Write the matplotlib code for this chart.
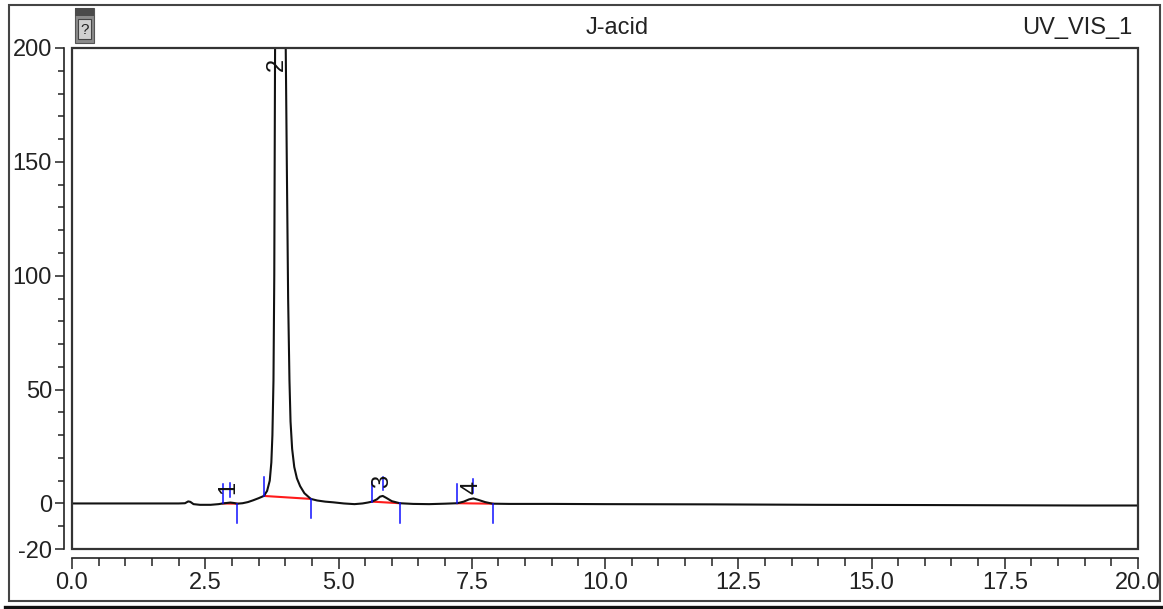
import matplotlib
matplotlib.use('Agg')
import matplotlib.pyplot as plt
from matplotlib.patches import Rectangle
from matplotlib.lines import Line2D
from matplotlib.ticker import FixedLocator, MultipleLocator

plt.rcParams['font.family'] = ['Liberation Sans', 'DejaVu Sans']

# ---------------- data ----------------
title = "J-acid"
channel = "UV_VIS_1"

time_min = [0.0, 1.0, 2.0, 2.12, 2.18, 2.22, 2.28, 2.4, 2.6, 2.75, 2.83, 2.9, 2.97,
            3.04, 3.10, 3.2, 3.3, 3.4, 3.5, 3.6, 3.66, 3.71, 3.74, 3.76, 3.78, 3.795,
            3.81, 3.83, 3.91, 3.98, 4.01, 4.03, 4.055, 4.08, 4.10, 4.13, 4.17, 4.22,
            4.28, 4.36, 4.48, 4.6, 4.75, 4.9, 5.1, 5.3, 5.45, 5.55, 5.63, 5.72, 5.78,
            5.83, 5.9, 6.0, 6.15, 6.4, 6.7, 7.0, 7.23, 7.35, 7.45, 7.53, 7.62, 7.75,
            7.89, 8.2, 9.0, 10.0, 12.0, 14.0, 16.0, 17.5, 19.0, 20.0]
signal_mau = [0.0, 0.0, 0.0, 0.1, 0.9, 0.7, -0.3, -0.6, -0.6, -0.3, 0.0, 0.2, 0.4,
              0.2, -0.1, 0.1, 0.6, 1.4, 2.3, 3.3, 5.5, 10.0, 18.0, 30.0, 54.0, 100.0,
              200.0, 260.0, 320.0, 260.0, 200.0, 150.0, 90.0, 54.0, 36.0, 24.0, 16.0, 11.0,
              7.6, 4.5, 2.0, 1.3, 0.8, 0.5, 0.0, -0.3, 0.0, 0.4, 0.8, 1.8, 3.0,
              3.3, 2.4, 1.0, 0.1, -0.2, -0.3, -0.1, 0.1, 0.8, 1.8, 2.2, 1.6, 0.6,
              -0.1, -0.2, -0.2, -0.3, -0.4, -0.6, -0.7, -0.8, -0.9, -0.9]

peak_ids = ["1", "2", "3", "4"]
peak_start = [2.83, 3.60, 5.63, 7.23]
peak_start_val = [0.0, 3.3, 0.8, 0.1]
peak_end = [3.10, 4.48, 6.15, 7.89]
peak_end_val = [-0.1, 2.0, 0.1, -0.1]
peak_apex = [2.97, None, 5.83, 7.53]
peak_apex_val = [0.4, None, 3.3, 2.2]
label_x = [2.93, 3.84, 5.81, 7.50]
label_y = [7.0, 193.0, 9.8, 7.2]

x_major = [0.0, 2.5, 5.0, 7.5, 10.0, 12.5, 15.0, 17.5, 20.0]
x_labels = ["0.0", "2.5", "5.0", "7.5", "10.0", "12.5", "15.0", "17.5", "20.0"]
y_major = [-20, 0, 50, 100, 150, 200]
y_labels = ["-20", "0", "50", "100", "150", "200"]

# ---------------- figure ----------------
W, H = 1163, 609
fig = plt.figure(figsize=(W / 100, H / 100), dpi=100)


def fx(px):
    return px / W


def fy(py):
    return 1 - py / H


ax = fig.add_axes([fx(72), fy(549), fx(1138) - fx(72), fy(48) - fy(549)])
ax.set_xlim(0, 20)
ax.set_ylim(-20, 200)

ax.plot(time_min, signal_mau, color='#111111', lw=1.5, zorder=3)

# integration baselines and delimiters
for i in range(len(peak_ids)):
    ax.plot([peak_start[i], peak_end[i]], [peak_start_val[i], peak_end_val[i]],
            color='#ff1a1a', lw=1.5, zorder=2)
    ax.plot([peak_start[i]] * 2, [peak_start_val[i], peak_start_val[i] + 8.5],
            color='#1010ff', lw=1.1, zorder=4)
    ax.plot([peak_end[i]] * 2, [peak_end_val[i], peak_end_val[i] - 8.5],
            color='#1010ff', lw=1.1, zorder=4)
    if peak_apex[i] is not None:
        ax.plot([peak_apex[i]] * 2, [peak_apex_val[i] + 2.5, peak_apex_val[i] + 8.5],
                color='#1010ff', lw=1.1, zorder=4)
    ax.text(label_x[i], label_y[i], peak_ids[i], rotation=90, ha='center', va='center',
            fontsize=17, color='#111111', zorder=5)

# box around plot area
ax.add_patch(Rectangle((0, 0), 1, 1, transform=ax.transAxes, fill=False,
                       lw=1.6, ec='#333333', clip_on=False, zorder=6))

for s in ['top', 'right']:
    ax.spines[s].set_visible(False)
ax.spines['left'].set_position(('outward', 5.8))
ax.spines['bottom'].set_position(('outward', 6.6))
for s in ['left', 'bottom']:
    ax.spines[s].set_linewidth(1.2)
    ax.spines[s].set_color('#222222')

ax.xaxis.set_major_locator(FixedLocator(x_major))
ax.set_xticklabels(x_labels)
ax.xaxis.set_minor_locator(MultipleLocator(0.5))
ax.yaxis.set_major_locator(FixedLocator(y_major))
ax.set_yticklabels(y_labels)
ax.yaxis.set_minor_locator(FixedLocator([v for v in range(-10, 200, 10) if v not in y_major]))

ax.tick_params(axis='x', which='major', direction='out', length=8, width=1.1,
               labelsize=17, pad=2, colors='#222222')
ax.tick_params(axis='x', which='minor', direction='out', length=5.6, width=1.1, colors='#222222')
ax.tick_params(axis='y', which='major', direction='out', length=6.2, width=1.1,
               labelsize=17, pad=2.5, colors='#222222')
ax.tick_params(axis='y', which='minor', direction='out', length=4.3, width=1.1, colors='#222222')

# outer frame
fig.add_artist(Rectangle((fx(9), fy(601)), fx(1160) - fx(9), fy(5) - fy(601),
                         transform=fig.transFigure, fill=False, lw=1.5, ec='#444444'))
fig.add_artist(Line2D([fx(5), fx(1163)], [fy(606.5), fy(606.5)],
                      transform=fig.transFigure, lw=2.4, color='#111111'))

# small icon
fig.add_artist(Rectangle((fx(75), fy(43)), fx(94) - fx(75), fy(8) - fy(43),
                         transform=fig.transFigure, fc='#8a8a8a', ec='#555555', lw=0.8))
fig.add_artist(Rectangle((fx(75), fy(16)), fx(94) - fx(75), fy(8) - fy(16),
                         transform=fig.transFigure, fc='#4a4a4a', ec='none'))
fig.add_artist(Rectangle((fx(78), fy(39)), fx(91) - fx(78), fy(19) - fy(39),
                         transform=fig.transFigure, fc='#d0d0d0', ec='#444444', lw=0.8))
fig.text(fx(84.5), fy(29.5), "?", ha='center', va='center', fontsize=11, color='#222222')

# header texts
fig.text(fx(617), fy(28), title, ha='center', va='center', fontsize=17, color='#222222')
fig.text(fx(1132), fy(28), channel, ha='right', va='center', fontsize=17, color='#222222')

fig.savefig('out.png', dpi=100)
